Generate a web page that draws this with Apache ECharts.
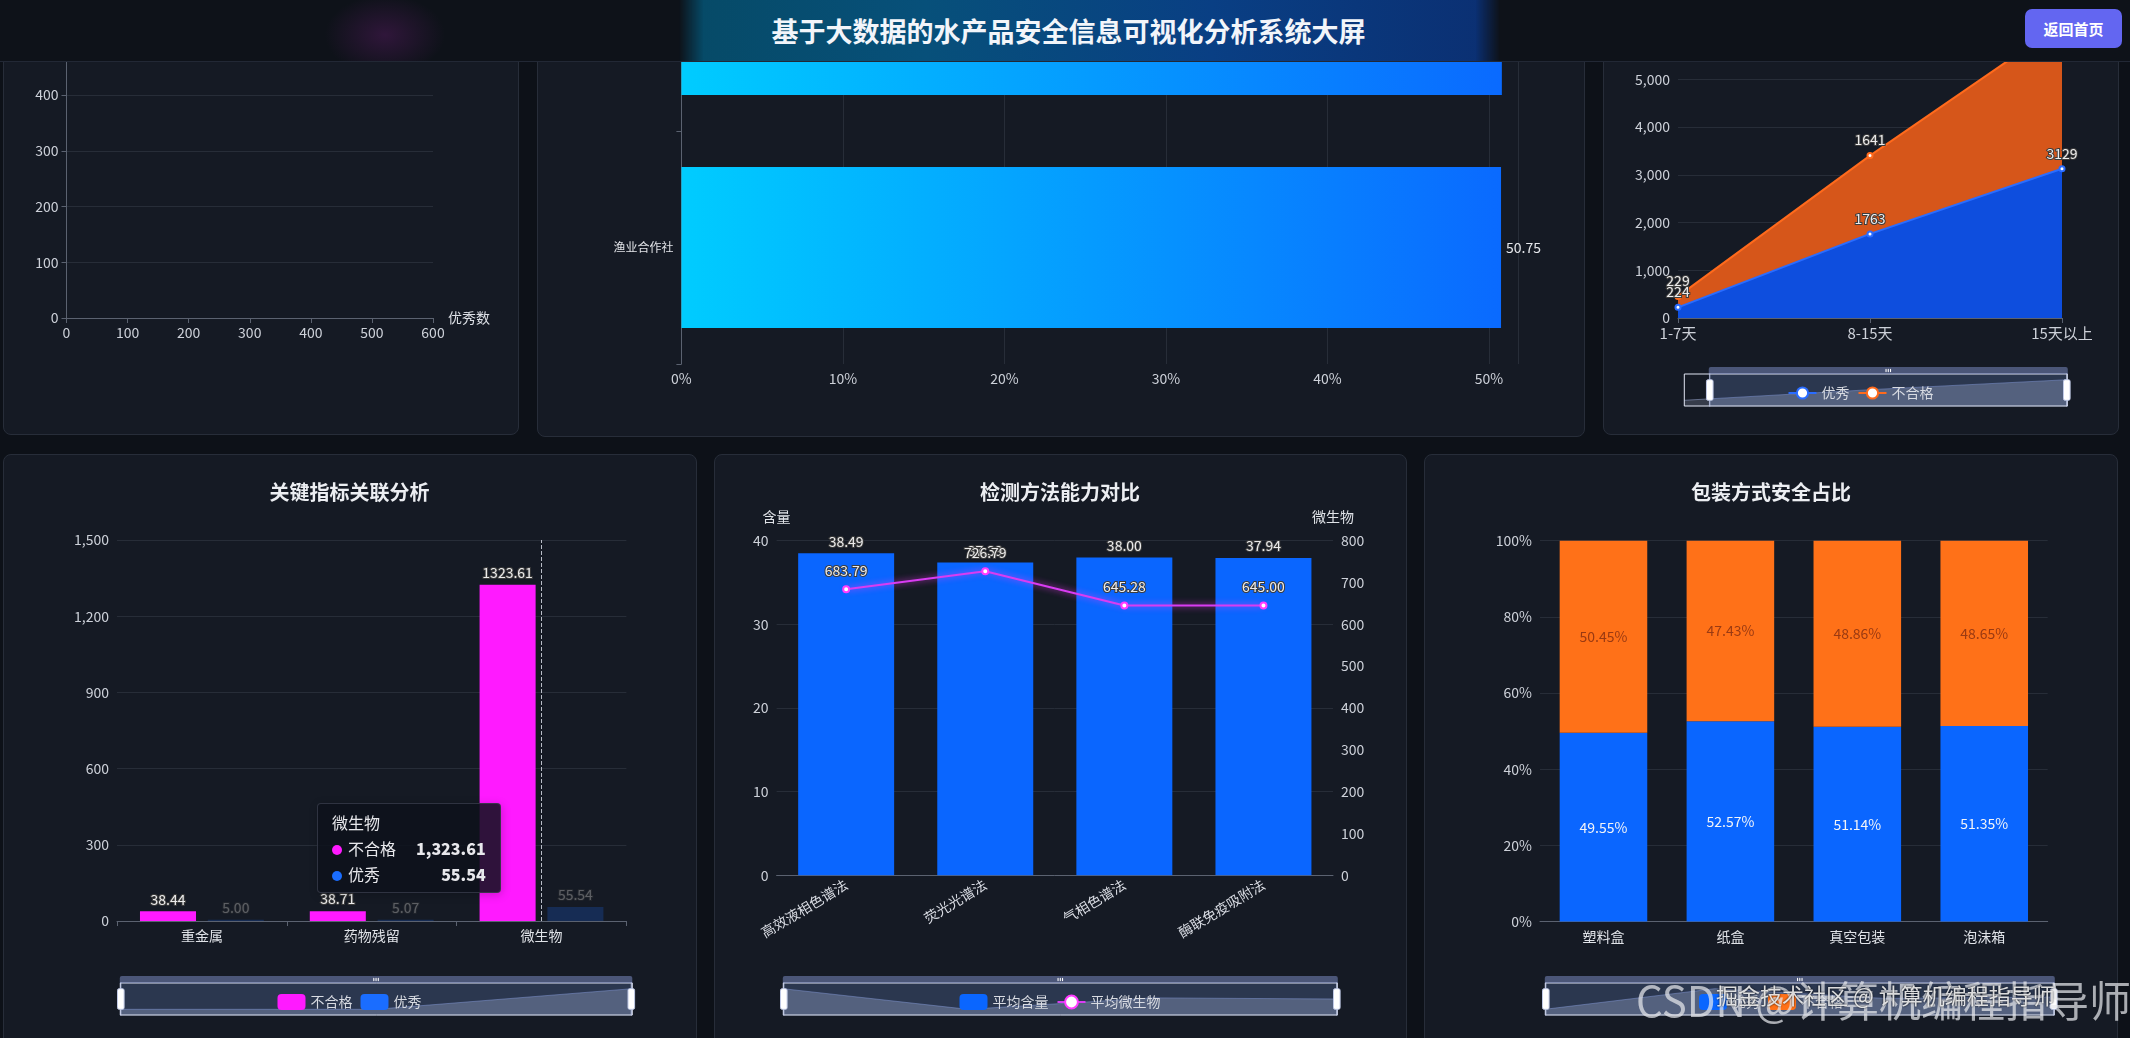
<!DOCTYPE html>
<html>
<head>
<meta charset="utf-8">
<script src="https://cdn.jsdelivr.net/npm/echarts@6/dist/echarts.min.js"></script>
<style>
html,body{margin:0;padding:0;width:2130px;height:1038px;overflow:hidden;background:#0d1118;font-family:"Noto Sans CJK SC","Noto Sans",sans-serif;}
.panel{position:absolute;background:#151a24;border:1px solid #272d39;border-radius:8px;box-sizing:border-box;}
.chart{position:absolute;}
#header{position:absolute;left:0;top:0;width:2130px;height:61px;z-index:10;
  background:radial-gradient(ellipse 60px 40px at 385px 35px, rgba(110,30,120,0.35), rgba(0,0,0,0) 100%),
             radial-gradient(ellipse 60px 40px at 1255px 30px, rgba(60,60,70,0.3), rgba(0,0,0,0) 100%),
             #0e1219;
  border-bottom:1px solid #222835;}
#titlebox{position:absolute;left:679px;top:0;width:821px;height:61px;
  background:linear-gradient(90deg,#064a66 0%,#07507a 30%,#093f84 65%,#0b2f72 100%);
  -webkit-mask-image:linear-gradient(90deg,transparent 0,#000 3%,#000 97%,transparent 100%);
  mask-image:linear-gradient(90deg,transparent 0,#000 3%,#000 97%,transparent 100%);}
#title{position:absolute;left:0;top:0;width:2130px;height:61px;line-height:61px;text-align:center;
  color:#f2f5fa;font-size:27px;font-weight:bold;letter-spacing:0px;padding-left:7px;box-sizing:border-box;}
#btn{position:absolute;left:2025px;top:9px;width:97px;height:39px;border-radius:7px;background:#6366f1;
  color:#fff;font-size:15px;font-weight:600;line-height:39px;text-align:center;}
.wm1{position:absolute;left:1636px;top:974px;font-size:42px;color:rgba(230,232,236,0.72);z-index:20;
  font-family:"Noto Sans CJK SC",sans-serif;white-space:nowrap;line-height:50px;}
.wm2{position:absolute;left:1716px;top:980px;font-size:22px;color:rgba(255,255,255,0.85);z-index:21;
  font-family:"Noto Sans CJK SC",sans-serif;white-space:nowrap;line-height:28px;text-shadow:0 0 2px #000;}
</style>
</head>
<body>
<div class="panel" style="left:3px;top:-170px;width:516px;height:605px;"></div>
<div class="panel" style="left:537px;top:-170px;width:1048px;height:607px;"></div>
<div class="panel" style="left:1603px;top:-170px;width:516px;height:605px;"></div>
<div class="panel" style="left:3px;top:454px;width:694px;height:620px;"></div>
<div class="panel" style="left:714px;top:454px;width:693px;height:620px;"></div>
<div class="panel" style="left:1424px;top:454px;width:694px;height:620px;"></div>

<div id="c1" class="chart" style="left:3px;top:-165px;width:515px;height:600px;"></div>
<div id="c2" class="chart" style="left:537px;top:-200px;width:1048px;height:636px;"></div>
<div id="c3" class="chart" style="left:1603px;top:-165px;width:515px;height:599px;"></div>
<div id="c4" class="chart" style="left:3px;top:454px;width:693px;height:584px;"></div>
<div id="c5" class="chart" style="left:714px;top:454px;width:692px;height:584px;"></div>
<div id="c6" class="chart" style="left:1424px;top:454px;width:694px;height:584px;"></div>

<div id="header">
  <div id="titlebox"></div>
  <div id="title">基于大数据的水产品安全信息可视化分析系统大屏</div>
  <div id="btn">返回首页</div>
</div>
<div class="wm1">CSDN @计算机编程指导师</div>
<div class="wm2">掘金技术社区 @ 计算机编程指导师</div>

<script>
// ---------------- data ----------------
// Panel 1: scatter (优秀数 vs count) – no points visible in the shown area
const p1Points = [];
// Panel 2: horizontal bar (percent)
const p2Categories = ['渔业合作社', '养殖企业'];
const p2Values = [50.75, 50.80];
// Panel 3: stacked area by storage days
const p3Days = ['1-7天', '8-15天', '15天以上'];
const p3Excellent = [224, 1763, 3129];
const p3Unqualified = [229, 1641, 3040];
// Panel 4: 关键指标关联分析
const p4Indicators = ['重金属', '药物残留', '微生物'];
const p4Unqualified = [38.44, 38.71, 1323.61];
const p4Excellent = [5.00, 5.07, 55.54];
// Panel 5: 检测方法能力对比
const p5Methods = ['高效液相色谱法', '荧光光谱法', '气相色谱法', '酶联免疫吸附法'];
const p5AvgContent = [38.49, 37.39, 38.00, 37.94];
const p5AvgMicro = [683.79, 726.79, 645.28, 645.00];
// Panel 6: 包装方式安全占比 (%)
const p6Packages = ['塑料盒', '纸盒', '真空包装', '泡沫箱'];
const p6Excellent = [49.55, 52.57, 51.14, 51.35];
const p6Unqualified = [50.45, 47.43, 48.86, 48.65];

// ---------------- common styles ----------------
const FONT = '"Noto Sans CJK SC","Noto Sans",sans-serif';
const LABEL_C = '#cdd1d9';
const GRID_C = '#272d38';
const AXIS_C = '#5b6270';
const outlined = {color:'#ececec', textBorderColor:'#3c3c3c', textBorderWidth:2, fontSize:14, fontFamily:FONT};
const sliderBase = {type:'slider', height:33};
const titleStyle = {color:'#eceef2', fontSize:20, fontWeight:'bold', fontFamily:FONT};

// ---------------- Panel 1 ----------------
const c1 = echarts.init(document.getElementById('c1'));
c1.setOption({
  textStyle:{fontFamily:FONT},
  grid:{left:63.5, right:85, top:204.25, bottom:117},
  xAxis:{type:'value', min:0, max:600, interval:100, name:'优秀数',
    nameTextStyle:{color:'#dde0e6', fontSize:14},
    axisLine:{show:true, lineStyle:{color:AXIS_C}}, axisTick:{show:true, lineStyle:{color:AXIS_C}},
    axisLabel:{color:LABEL_C, fontSize:14}, splitLine:{show:false}},
  yAxis:{type:'value', min:0, max:500, interval:100,
    axisLine:{show:true, lineStyle:{color:AXIS_C}}, axisTick:{show:true, lineStyle:{color:AXIS_C}},
    axisLabel:{color:LABEL_C, fontSize:14}, splitLine:{lineStyle:{color:GRID_C}}},
  series:[{type:'scatter', data:p1Points}]
});

// ---------------- Panel 2 ----------------
const c2 = echarts.init(document.getElementById('c2'));
c2.setOption({
  textStyle:{fontFamily:FONT},
  grid:{left:144.4, right:67, top:98, bottom:72},
  xAxis:{type:'value', min:0, max:function(v){return v.max + 1;},
    axisLabel:{color:LABEL_C, fontSize:14, formatter:'{value}%'},
    axisLine:{show:false}, splitLine:{lineStyle:{color:GRID_C}}},
  yAxis:{type:'category', data:p2Categories,
    axisLine:{show:true, lineStyle:{color:AXIS_C}}, axisTick:{show:true, lineStyle:{color:AXIS_C}},
    axisLabel:{color:'#e2e4e8', fontSize:12}},
  series:[{type:'bar', data:p2Values, barWidth:'69%',
    itemStyle:{color:new echarts.graphic.LinearGradient(0,0,1,0,[{offset:0,color:'#00ccff'},{offset:1,color:'#0a6aff'}])},
    label:{show:true, position:'right', color:'#e6e8ec', fontSize:14}}]
});

// ---------------- Panel 3 ----------------
const c3 = echarts.init(document.getElementById('c3'));
c3.setOption({
  textStyle:{fontFamily:FONT},
  grid:{left:75, right:56, top:149, bottom:116},
  legend:{top:546, left:'center', itemWidth:28, itemHeight:14, textStyle:{color:'#d8dbe2', fontSize:14}, z:10,
    data:['优秀','不合格']},
  dataZoom:[Object.assign({}, sliderBase, {left:78, right:53, top:532, start:6.5, end:100})],
  xAxis:{type:'category', data:p3Days, boundaryGap:false,
    axisLine:{lineStyle:{color:AXIS_C}}, axisLabel:{color:LABEL_C, fontSize:15}},
  yAxis:{type:'value', min:0, max:7000, interval:1000,
    axisLabel:{color:LABEL_C, fontSize:14}, splitLine:{lineStyle:{color:GRID_C}}},
  series:[
    {name:'优秀', type:'line', stack:'t', data:p3Excellent, symbol:'emptyCircle', symbolSize:5,
      itemStyle:{color:'#2a6cff'}, lineStyle:{color:'#2a6cff', width:2},
      areaStyle:{color:'rgb(14,78,222)', opacity:1}, label:Object.assign({show:true, position:'top'}, outlined)},
    {name:'不合格', type:'line', stack:'t', data:p3Unqualified, symbol:'emptyCircle', symbolSize:5,
      itemStyle:{color:'#ff6a1c'}, lineStyle:{color:'#ff6a1c', width:2},
      areaStyle:{color:'rgb(214,86,26)', opacity:1}, label:Object.assign({show:true, position:'top'}, outlined)}
  ]
});

// ---------------- Panel 4 ----------------
const c4 = echarts.init(document.getElementById('c4'));
c4.setOption({
  textStyle:{fontFamily:FONT},
  title:{text:'关键指标关联分析', left:'center', top:23, textStyle:titleStyle},
  grid:{left:114, right:69.6, top:86, bottom:117},
  tooltip:{trigger:'axis', alwaysShowContent:true, position:[314,349],
    backgroundColor:'rgba(13,18,27,0.86)', borderColor:'rgba(70,74,90,0.6)', borderWidth:1,
    padding:[10,14], textStyle:{color:'#e8e8ec', fontSize:16},
    axisPointer:{type:'line', lineStyle:{type:'dashed', color:'#b8bcc6', width:1}}},
  legend:{top:535, left:'center', itemWidth:28, itemHeight:16, textStyle:{color:'#d8dbe2', fontSize:14}, z:10},
  dataZoom:[Object.assign({}, sliderBase, {left:114, right:66.5, top:522})],
  xAxis:{type:'category', data:p4Indicators,
    axisLine:{lineStyle:{color:AXIS_C}}, axisTick:{show:true}, axisLabel:{color:'#e0e3e8', fontSize:14}},
  yAxis:{type:'value', min:0, max:1500, interval:300,
    axisLabel:{color:LABEL_C, fontSize:14}, splitLine:{lineStyle:{color:GRID_C}}},
  series:[
    {name:'不合格', type:'bar', data:p4Unqualified, barWidth:'33%', barGap:'21%',
      itemStyle:{color:'#ff1aff'}, emphasis:{focus:'series', itemStyle:{color:'#ff1aff'}},
      label:Object.assign({show:true, position:'top', formatter:function(p){return p.value.toFixed(2);}}, outlined)},
    {name:'优秀', type:'bar', data:p4Excellent, barWidth:'33%', barGap:'21%',
      itemStyle:{color:'#1a6dff'}, blur:{itemStyle:{opacity:0.22}, label:{opacity:0.3}},
      label:Object.assign({show:true, position:'top', formatter:function(p){return p.value.toFixed(2);}}, outlined)}
  ]
});
c4.dispatchAction({type:'showTip', seriesIndex:0, dataIndex:2});
c4.dispatchAction({type:'downplay'});
c4.dispatchAction({type:'highlight', seriesIndex:0, dataIndex:2});

// ---------------- Panel 5 ----------------
const c5 = echarts.init(document.getElementById('c5'));
c5.setOption({
  textStyle:{fontFamily:FONT},
  title:{text:'检测方法能力对比', left:'center', top:23, textStyle:titleStyle},
  grid:{left:62.6, right:73, top:86.7, bottom:162.7},
  legend:{top:535, left:'center', itemWidth:28, itemHeight:16, textStyle:{color:'#d8dbe2', fontSize:14}, z:10},
  dataZoom:[Object.assign({}, sliderBase, {left:66, right:71, top:522})],
  xAxis:{type:'category', data:p5Methods,
    axisLine:{lineStyle:{color:AXIS_C}}, axisLabel:{color:'#d8dbe2', fontSize:14, rotate:31, interval:0}},
  yAxis:[
    {type:'value', name:'含量', min:0, max:40, interval:10, nameGap:17,
      nameTextStyle:{color:'#e0e3e8', fontSize:14, align:'center'},
      axisLabel:{color:LABEL_C, fontSize:14}, splitLine:{lineStyle:{color:GRID_C}}},
    {type:'value', name:'微生物', min:0, max:800, interval:100, nameGap:17,
      nameTextStyle:{color:'#e0e3e8', fontSize:14, align:'center'},
      axisLabel:{color:LABEL_C, fontSize:14}, splitLine:{show:false}}
  ],
  series:[
    {name:'平均含量', type:'bar', data:p5AvgContent, barWidth:'69%', itemStyle:{color:'#0a66ff'},
      label:Object.assign({show:true, position:'top', formatter:function(p){return p.value.toFixed(2);}}, outlined)},
    {name:'平均微生物', type:'line', yAxisIndex:1, data:p5AvgMicro, symbol:'emptyCircle', symbolSize:6,
      itemStyle:{color:'#ff3cff', borderWidth:2}, lineStyle:{color:'#d93cf2', width:2, shadowColor:'rgba(255,60,255,0.8)', shadowBlur:6},
      label:Object.assign({show:true, position:'top', distance:8, formatter:function(p){return p.value.toFixed(2);}}, outlined)}
  ]
});

// ---------------- Panel 6 ----------------
const c6 = echarts.init(document.getElementById('c6'));
c6.setOption({
  textStyle:{fontFamily:FONT},
  title:{text:'包装方式安全占比', left:'center', top:23, textStyle:titleStyle},
  grid:{left:116, right:70.3, top:86.7, bottom:116.4},
  legend:{top:535, left:'center', itemWidth:28, itemHeight:16, textStyle:{color:'#d8dbe2', fontSize:14}, z:10},
  dataZoom:[Object.assign({}, sliderBase, {left:118, right:66, top:522})],
  xAxis:{type:'category', data:p6Packages,
    axisLine:{lineStyle:{color:AXIS_C}}, axisLabel:{color:'#e0e3e8', fontSize:14}},
  yAxis:{type:'value', min:0, max:100, interval:20,
    axisLabel:{color:LABEL_C, fontSize:14, formatter:'{value}%'}, splitLine:{lineStyle:{color:GRID_C}}},
  series:[
    {name:'优秀', type:'bar', stack:'p', data:p6Excellent, barWidth:'69%', itemStyle:{color:'#0a66ff'},
      label:{show:true, position:'inside', color:'#f2f4f8', fontSize:14, formatter:'{c}%'}},
    {name:'不合格', type:'bar', stack:'p', data:p6Unqualified, barWidth:'69%', itemStyle:{color:'#ff7118'},
      label:{show:true, position:'inside', color:'#9a3a12', fontSize:14, formatter:'{c}%'}}
  ]
});
</script>
</body>
</html>
